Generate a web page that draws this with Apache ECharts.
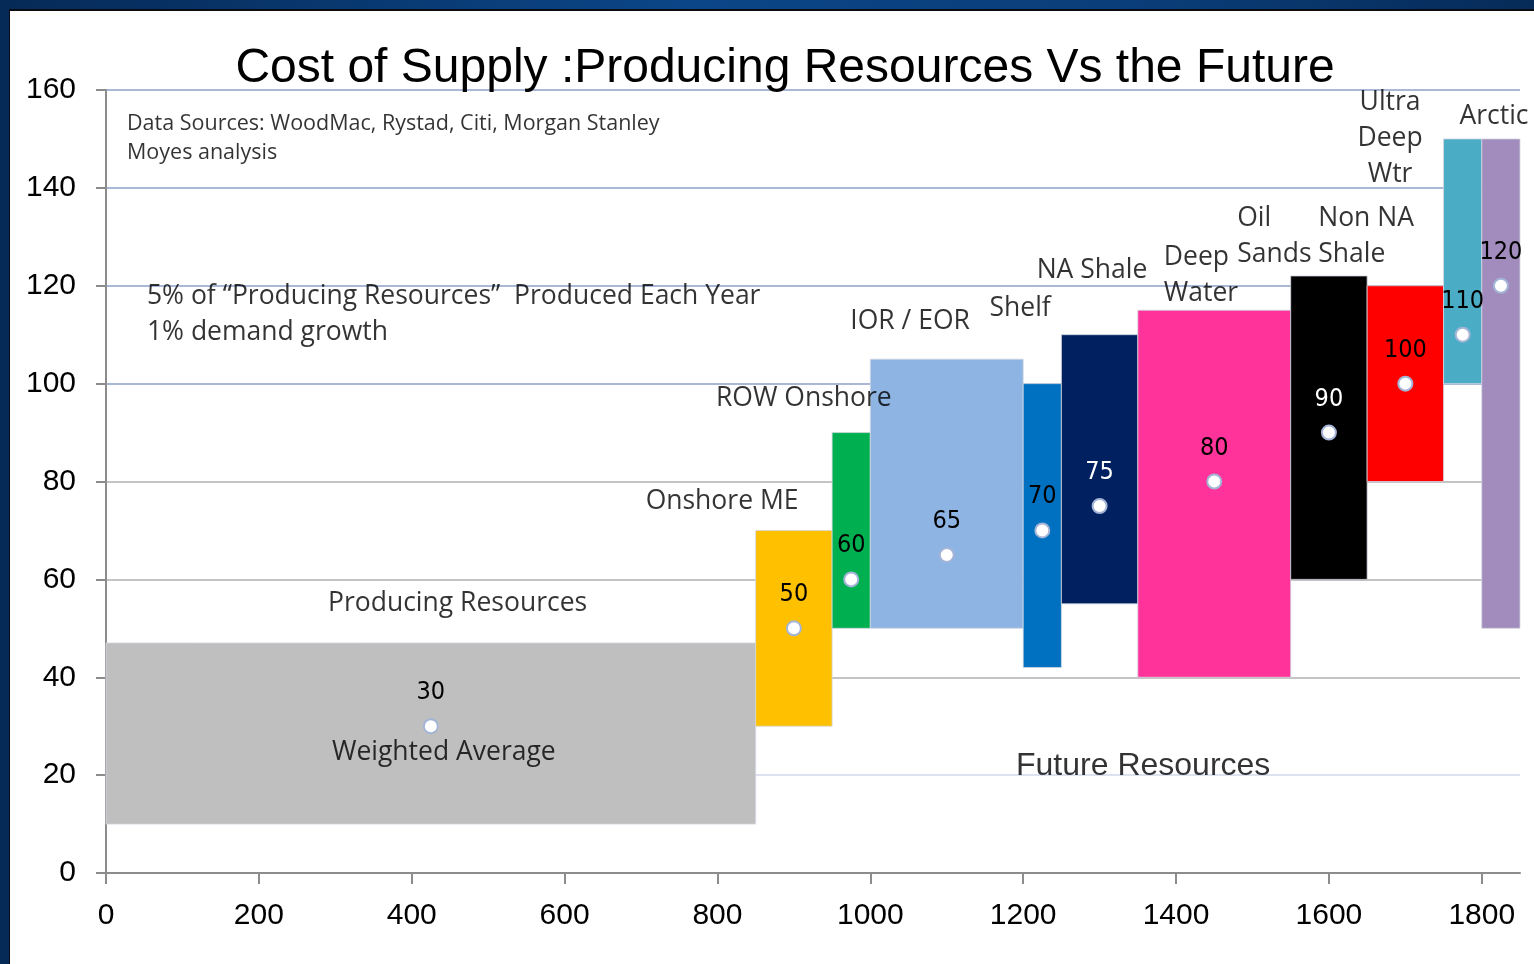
<!DOCTYPE html>
<html>
<head>
<meta charset="utf-8">
<title>Cost of Supply</title>
<script src="https://cdn.jsdelivr.net/npm/echarts@6/dist/echarts.min.js"></script>
<style>
    html, body { margin: 0; padding: 0; }
    body {
        width: 1534px; height: 964px; overflow: hidden;
        background: linear-gradient(90deg, #062a57 0%, #0b4688 45%, #0a3d78 75%, #062b58 100%);
        position: relative;
    }
    #panel {
        position: absolute; left: 9px; top: 9px; right: 0; bottom: 0;
        background: #fff;
        border-left: 1px solid #0b0b14; border-top: 2px solid #0b0b14;
    }
    #chart { position: absolute; left: 0; top: 0; width: 1534px; height: 964px; }
</style>
</head>
<body>
<div id="panel"></div>
<div id="chart"></div>
<script>
    // resource groups, left to right along cumulative volume
    const groups = ['Producing Resources', 'Onshore ME', 'ROW Onshore', 'IOR / EOR', 'Shelf', 'NA Shale',
        'Deep Water', 'Oil Sands', 'Non NA Shale', 'Ultra Deep Wtr', 'Arctic'];
    const volStart = [0, 850, 950, 1000, 1200, 1250, 1350, 1550, 1650, 1750, 1800];
    const volEnd = [850, 950, 1000, 1200, 1250, 1350, 1550, 1650, 1750, 1800, 1850];
    const costLow = [10, 30, 50, 50, 42, 55, 40, 60, 80, 100, 50];
    const costHigh = [47, 70, 90, 105, 100, 110, 115, 122, 120, 150, 150];
    const costMid = [30, 50, 60, 65, 70, 75, 80, 90, 100, 110, 120];
    const boxColors = ['#bfbfbf', '#ffc000', '#00b050', '#8eb4e3', '#0070c0', '#002060',
        '#ff3399', '#000000', '#ff0000', '#4bacc6', '#a28cbd'];
    const darkBoxes = ['NA Shale', 'Oil Sands'];

    const xTicks = [0, 200, 400, 600, 800, 1000, 1200, 1400, 1600, 1800];
    const yTicks = [0, 20, 40, 60, 80, 100, 120, 140, 160];

    // text notes: [x, y, text, align]
    const catNotes = [
        [460, 55, 'Producing Resources', 'center'],
        [442, 24.7, 'Weighted Average', 'center'],
        [806, 76, 'Onshore ME', 'center'],
        [913, 97, 'ROW Onshore', 'center'],
        [1052, 112.8, 'IOR / EOR', 'center'],
        [1196, 115.4, 'Shelf', 'center'],
        [1290, 123.2, 'NA Shale', 'center'],
        [1384, 122.2, 'Deep\nWater', 'left'],
        [1480, 130, 'Oil\nSands', 'left'],
        [1586, 130, 'Non NA\nShale', 'left'],
        [1680, 150, 'Ultra\nDeep\nWtr', 'center'],
        [1816, 154.5, 'Arctic', 'center'],
        [53.6, 114.2, '5% of \u201cProducing Resources\u201d  Produced Each Year\n1% demand growth', 'left']
    ];
    const sourceNote = [27.5, 150.1, 'Data Sources: WoodMac, Rystad, Citi, Morgan Stanley\nMoyes analysis'];
    const futureNote = [1357, 21.9, 'Future Resources'];

    const boxData = groups.map((g, i) => ({ name: g, value: [volStart[i], volEnd[i], costLow[i], costHigh[i]] }));
    const midData = groups.map((g, i) => ({
        name: g,
        value: [(volStart[i] + volEnd[i]) / 2, costMid[i]],
        label: { color: darkBoxes.includes(g) ? '#ffffff' : '#000000' }
    }));

    const chart = echarts.init(document.getElementById('chart'));
    const option = {
        animation: false,
        backgroundColor: 'transparent',
        title: {
            text: 'Cost of Supply :Producing Resources Vs the Future',
            left: 780, top: 40, textAlign: 'center',
            textStyle: { fontFamily: 'Liberation Sans, Arial', fontSize: 48, fontWeight: 'normal', color: '#000' }
        },
        grid: { left: 106, right: 14, top: 90, bottom: 91 },
        xAxis: {
            type: 'value', min: 0, max: 1850, interval: 200,
            axisLine: { show: true, lineStyle: { color: '#8c8c8c', width: 2 } },
            axisTick: { show: true, length: 11, lineStyle: { color: '#8c8c8c', width: 2 } },
            axisLabel: {
                margin: 28, fontFamily: 'Liberation Sans, Arial', fontSize: 30, color: '#000',
                showMaxLabel: false,
                formatter: v => xTicks.includes(v) ? String(v) : ''
            },
            splitLine: { show: false }
        },
        yAxis: {
            type: 'value', min: 0, max: 160, interval: 20,
            axisLine: { show: true, lineStyle: { color: '#8c8c8c', width: 2 } },
            axisTick: { show: true, length: 10, lineStyle: { color: '#8c8c8c', width: 2 } },
            axisLabel: {
                margin: 30, fontFamily: 'Liberation Sans, Arial', fontSize: 30, color: '#000',
                formatter: v => yTicks.includes(v) ? String(v) : ''
            },
            splitLine: {
                show: true,
                lineStyle: {
                    width: 2,
                    color: ['#bfbfbf', '#dde1f0', '#c4c4c4', '#c4c4c4', '#c4c4c4',
                        '#aab8d8', '#aab8d8', '#aab8d8', '#aab8d8']
                }
            }
        },
        series: [
            {
                name: 'boxes',
                type: 'custom',
                data: boxData,
                z: 2,
                renderItem: (params, api) => {
                    const p0 = api.coord([api.value(0), api.value(3)]);
                    const p1 = api.coord([api.value(1), api.value(2)]);
                    return {
                        type: 'rect',
                        shape: { x: p0[0], y: p0[1], width: p1[0] - p0[0], height: p1[1] - p0[1] },
                        style: { fill: boxColors[params.dataIndex], stroke: 'rgba(210,214,224,0.8)', lineWidth: 1 }
                    };
                }
            },
            {
                name: 'cost',
                type: 'scatter',
                data: midData,
                z: 5,
                symbol: 'circle',
                symbolSize: 14,
                itemStyle: { color: '#ffffff', borderColor: '#a3b4d6', borderWidth: 2, opacity: 1 },
                label: {
                    show: true, position: 'top', distance: 13,
                    formatter: p => String(p.value[1]),
                    fontFamily: 'Liberation Sans Narrow, DejaVu Sans Condensed, Arial Narrow',
                    fontSize: 25
                }
            },
            {
                name: 'notes',
                type: 'scatter',
                z: 6,
                symbolSize: 0,
                silent: true,
                data: catNotes.map(n => ({
                    value: [n[0], n[1]],
                    label: { formatter: n[2], align: n[3] }
                })),
                label: {
                    show: true, position: 'inside', verticalAlign: 'middle',
                    fontFamily: 'Open Sans', fontSize: 26.5, lineHeight: 36, color: '#000'
                }
            },
            {
                name: 'source',
                type: 'scatter',
                z: 6,
                symbolSize: 0,
                silent: true,
                data: [{ value: [sourceNote[0], sourceNote[1]] }],
                label: {
                    show: true, position: 'inside', align: 'left', verticalAlign: 'middle',
                    formatter: sourceNote[2],
                    fontFamily: 'Open Sans', fontSize: 21.5, lineHeight: 29, color: '#000'
                }
            },
            {
                name: 'future',
                type: 'scatter',
                z: 6,
                symbolSize: 0,
                silent: true,
                data: [{ value: [futureNote[0], futureNote[1]] }],
                label: {
                    show: true, position: 'inside', align: 'center', verticalAlign: 'middle',
                    formatter: futureNote[2],
                    fontFamily: 'Liberation Sans, Arial', fontSize: 32, color: '#000'
                }
            }
        ]
    };
    chart.setOption(option);
</script>
</body>
</html>
